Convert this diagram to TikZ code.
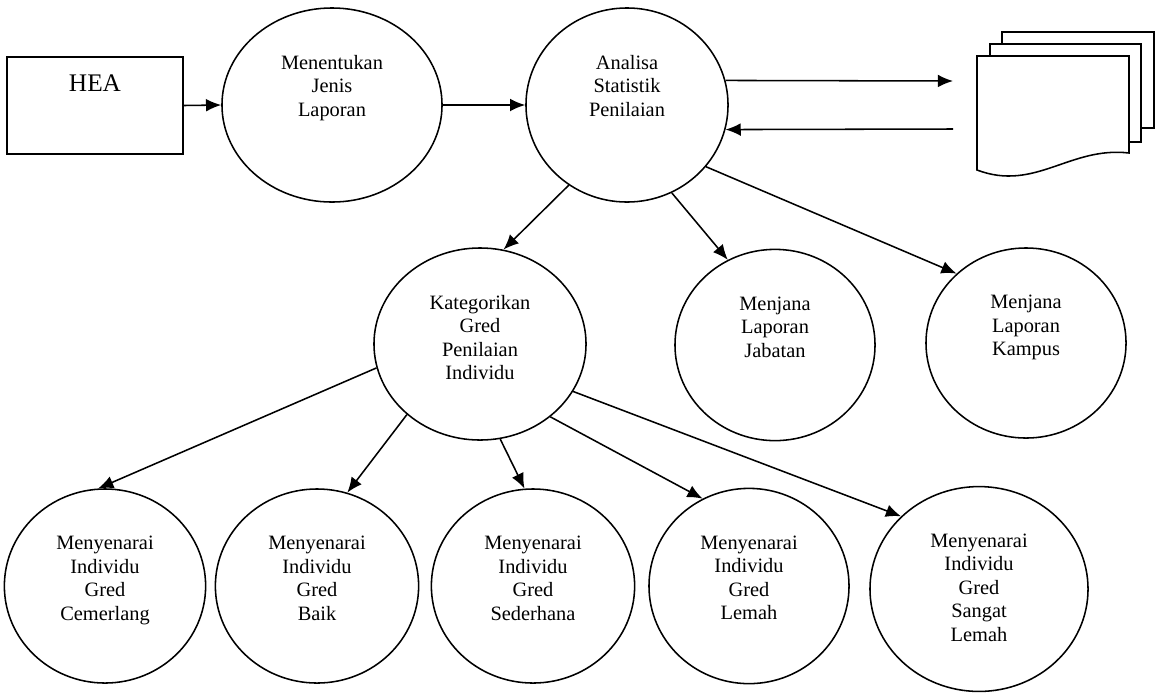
\documentclass[tikz,border=0pt]{standalone}
\usepackage{fontspec}
\setmainfont{Liberation Serif}
\usetikzlibrary{arrows.meta,positioning,shapes.geometric}

\tikzset{
  proc/.style={draw, ellipse, inner sep=0pt},
  lbl/.style={font=\fontsize{14.5}{16.7}\selectfont, align=center, inner sep=0pt},
  flow/.style={->},
}

\begin{document}
\begin{tikzpicture}[x=0.025cm,y=-0.025cm,line width=1.1pt,>={Latex[length=0.38cm,width=0.32cm]}]
\useasboundingbox (0,0) rectangle (1161,693);

  % top row
  \node[draw, minimum width=4.4cm, minimum height=2.425cm] (hea) at (95,105.5) {};
  \node[lbl, font=\fontsize{18}{20}\selectfont, below=0.44cm of hea.north] (hea-t) {HEA};
  \node[proc, minimum width=5.5cm, minimum height=4.85cm] (jenis) at (332,105) {};
  \node[lbl, below=1.18cm of jenis.north] (jenis-t) {Menentukan\\Jenis\\Laporan};
  \node[proc, minimum width=5.05cm, minimum height=4.85cm] (stat) at (627,105) {};
  \node[lbl, below=1.18cm of stat.north] (stat-t) {Analisa\\Statistik\\Penilaian};

  % report stack
  \draw[fill=white] (1002,32) rectangle (1154,128);
  \draw[fill=white] (990,44) rectangle (1141,142);
  \draw[fill=white] (977,170) -- (977,56) -- (1129,56) -- (1129,153)
    .. controls (1070,146) and (1035,192) .. (977,170) -- cycle;
  \coordinate (docin) at (953,81);
  \coordinate (docout) at (953,129);

  % middle row
  \node[proc, minimum width=5.3cm, minimum height=4.8cm] (kat) at (480,344) {};
  \node[lbl, below=1.18cm of kat.north] (kat-t) {Kategorikan\\Gred\\Penilaian\\Individu};
  \node[proc, minimum width=5cm, minimum height=4.78cm] (jab) at (775,345) {};
  \node[lbl, below=1.18cm of jab.north] (jab-t) {Menjana\\Laporan\\Jabatan};
  \node[proc, minimum width=5cm, minimum height=4.75cm] (kampus) at (1026,343) {};
  \node[lbl, below=1.18cm of kampus.north] (kampus-t) {Menjana\\Laporan\\Kampus};

  % bottom row
  \node[proc, minimum width=5.03cm, minimum height=4.85cm] (cem) at (105,586) {};
  \node[lbl, below=1.18cm of cem.north] (cem-t) {Menyenarai\\Individu\\Gred\\Cemerlang};
  \node[proc, minimum width=5.08cm, minimum height=4.85cm] (baik) at (317,586) {};
  \node[lbl, below=1.18cm of baik.north] (baik-t) {Menyenarai\\Individu\\Gred\\Baik};
  \node[proc, minimum width=5.08cm, minimum height=4.85cm] (seder) at (533,586) {};
  \node[lbl, below=1.18cm of seder.north] (seder-t) {Menyenarai\\Individu\\Gred\\Sederhana};
  \node[proc, minimum width=5cm, minimum height=4.88cm] (lemah) at (749,586) {};
  \node[lbl, below=1.18cm of lemah.north] (lemah-t) {Menyenarai\\Individu\\Gred\\Lemah};
  \node[proc, minimum width=5.45cm, minimum height=5.12cm] (sangat) at (979,589) {};
  \node[lbl, below=1.18cm of sangat.north] (sangat-t) {Menyenarai\\Individu\\Gred\\Sangat\\Lemah};

\path (hea.east)   edge [flow] (jenis.west)
      (jenis.east) edge [flow] (stat.west)
      (stat.14)    edge [flow] (docin)
      (docout)     edge [flow] (stat.-14)
      (stat.234)   edge [flow] (kat.76)
      (stat.297)   edge [flow] (jab.119)
      (stat.322)   edge [flow] (kampus.135)
      (kat.193)    edge [flow] (cem.94)
      (kat.224)    edge [flow] (baik.72)
      (kat.282)    edge [flow] (seder.95)
      (kat.314)    edge [flow] (lemah.118)
      (kat.333)    edge [flow] (sangat.137);
\end{tikzpicture}
\end{document}
